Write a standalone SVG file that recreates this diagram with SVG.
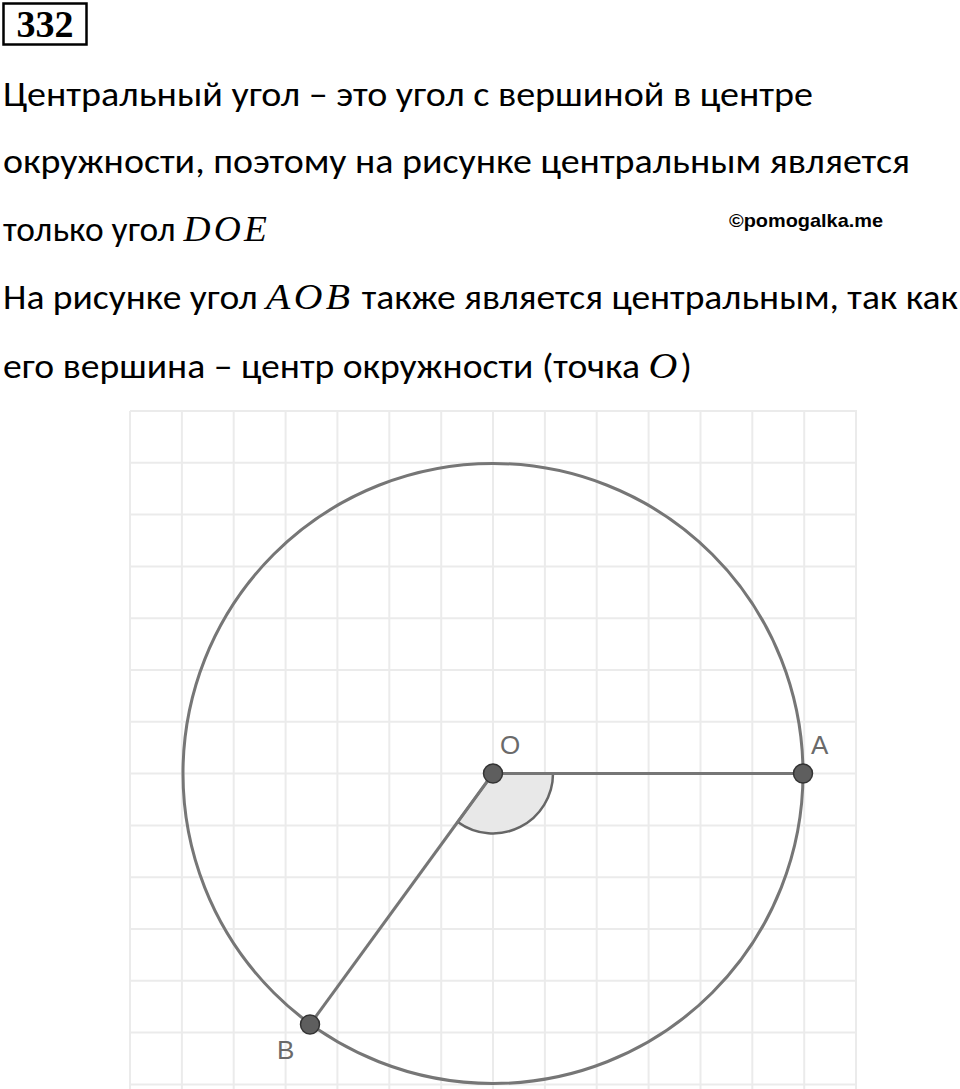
<svg xmlns="http://www.w3.org/2000/svg" width="960" height="1089" viewBox="0 0 960 1089">
<style>
.t{font-family:"Carlito","Open Sans","Noto Sans",sans-serif;font-size:34px;fill:#000}
.m{font-family:"Liberation Serif",serif;font-style:italic;font-size:36px;letter-spacing:3px}
.g{stroke:#ebebeb;stroke-width:2}
.lbl{font-family:"Liberation Sans",Arial,sans-serif;font-size:26px;fill:#6a6a6a}
.fig{fill:none;stroke:#767676;stroke-width:3}
.pt{fill:#5e5e5e;stroke:#333;stroke-width:1.5}
</style>
<rect width="960" height="1089" fill="#fff"/>
<g id="title">
<rect x="3.5" y="3.5" width="83" height="41" fill="none" stroke="#000" stroke-width="2.5"/>
<text x="45" y="37" text-anchor="middle" font-family="Liberation Serif,serif" font-weight="bold" font-size="38">332</text>
</g>
<g id="text">
<text class="t" x="3" y="106" textLength="810" lengthAdjust="spacingAndGlyphs">Центральный угол – это угол с вершиной в центре</text>
<text class="t" x="3" y="173" textLength="907" lengthAdjust="spacingAndGlyphs">окружности, поэтому на рисунке центральным является</text>
<text class="t" x="3" y="241" textLength="267" lengthAdjust="spacingAndGlyphs">только угол <tspan class="m">DOE</tspan></text>
<text class="t" x="3" y="309" textLength="955" lengthAdjust="spacingAndGlyphs">На рисунке угол <tspan class="m">AOB</tspan> также является центральным, так как</text>
<text class="t" x="3" y="378" textLength="689" lengthAdjust="spacingAndGlyphs">его вершина – центр окружности (точка <tspan class="m">O</tspan>)</text>
<text x="729" y="227" font-family="Liberation Sans,Arial,sans-serif" font-weight="bold" font-size="19" textLength="154" lengthAdjust="spacingAndGlyphs">©pomogalka.me</text>
</g>
<g id="grid">
<path class="g" d="M130 411V1089M181.9 411V1089M233.7 411V1089M285.6 411V1089M337.4 411V1089M389.3 411V1089M441.2 411V1089M493 411V1089M544.9 411V1089M596.7 411V1089M648.6 411V1089M700.5 411V1089M752.3 411V1089M804.2 411V1089M856 411V1089"/>
<path class="g" d="M130 411H857M130 462.8H857M130 514.6H857M130 566.4H857M130 618.2H857M130 670H857M130 721.8H857M130 773.6H857M130 825.4H857M130 877.2H857M130 929H857M130 980.8H857M130 1032.6H857M130 1084.4H857"/>
</g>
<g id="circle"><circle class="fig" cx="493" cy="773.5" r="310"/></g>
<g id="connectors">
<path d="M493 773.5L553 773.5A60 60 0 0 1 457.7 822Z" fill="#e8e8e8" stroke="#666" stroke-width="2.5"/>
<line class="fig" x1="493" y1="773.5" x2="803" y2="773.5"/>
<line class="fig" x1="493" y1="773.5" x2="310" y2="1024.5"/>
</g>
<g id="O"><circle class="pt" cx="493" cy="773.5" r="9.5"/><text class="lbl" x="500" y="754">O</text></g>
<g id="A"><circle class="pt" cx="803" cy="773.5" r="9.5"/><text class="lbl" x="811" y="754">A</text></g>
<g id="B"><circle class="pt" cx="310" cy="1024.5" r="9.5"/><text class="lbl" x="277" y="1059">B</text></g>
</svg>
